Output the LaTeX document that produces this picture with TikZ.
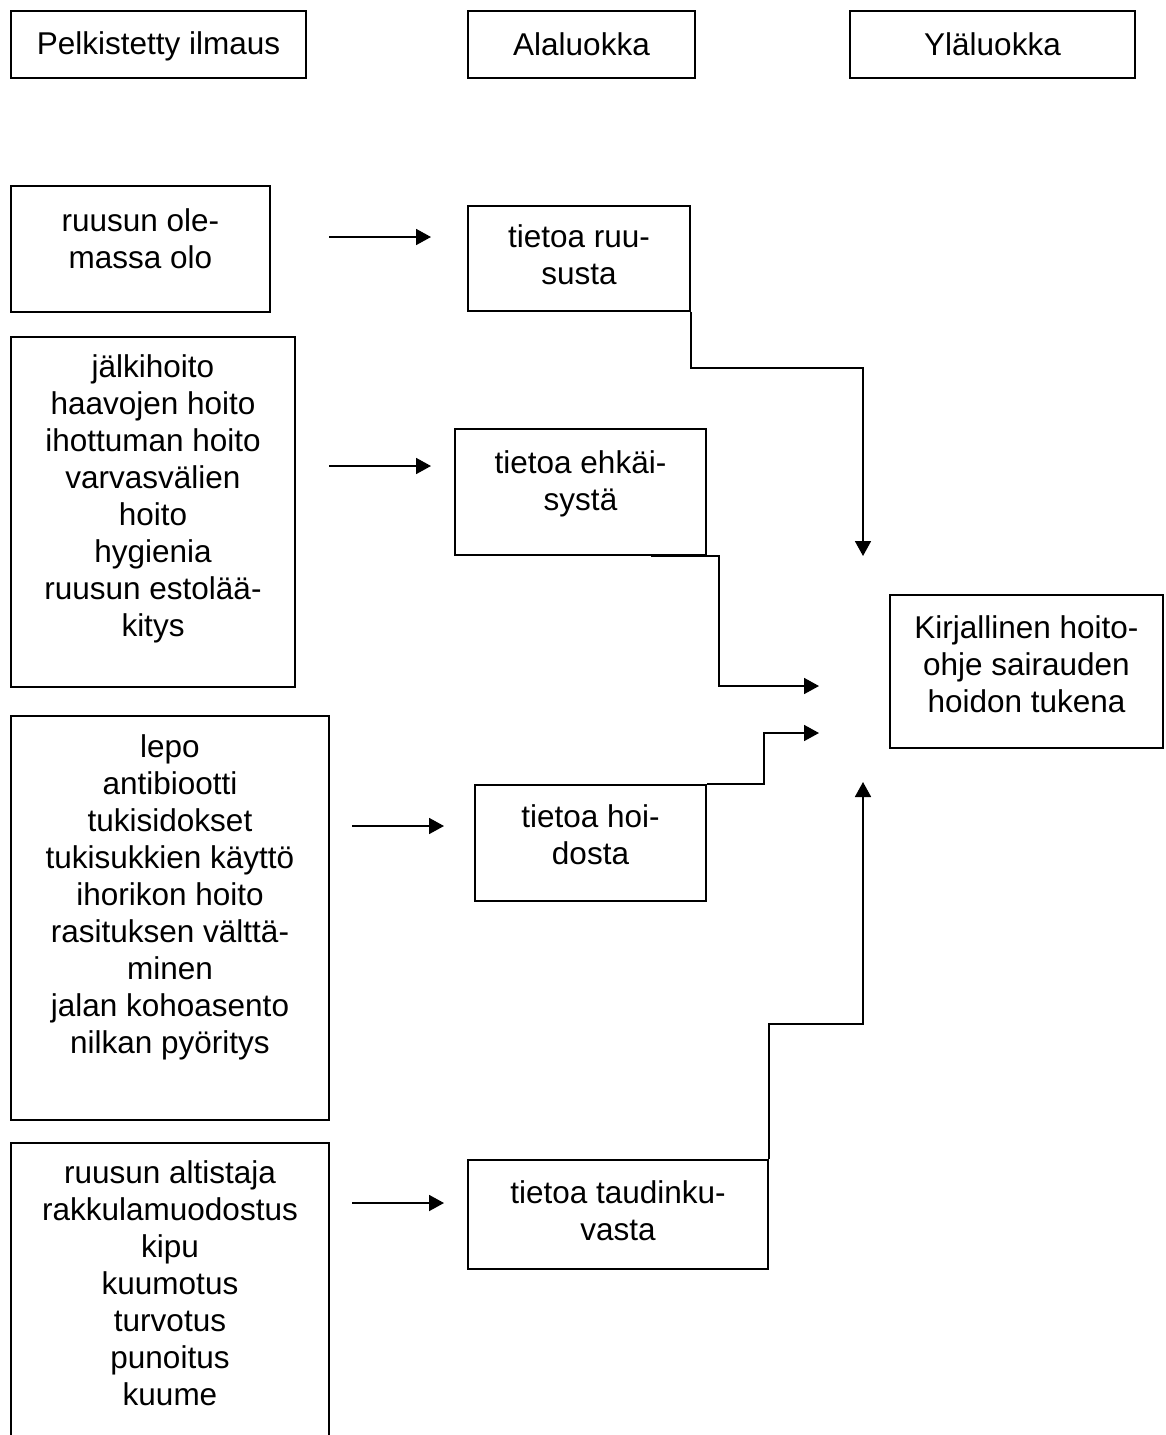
\documentclass[tikz,border=0pt]{standalone}
\usepackage{fontspec}
\setmainfont{Liberation Sans}
\usetikzlibrary{arrows.meta,calc}

\newcommand{\lowgap}[1]{\rule[-#1pt]{0pt}{#1pt}}

\tikzset{
  box/.style={draw, line width=1.8pt, align=center, inner sep=0pt, font=\fontsize{31.5}{37}\selectfont},
  arr/.style={line width=1.8pt, -{Triangle[length=15pt,width=16pt]}}
}

\begin{document}
\begin{tikzpicture}
  \useasboundingbox (0,0) rectangle (1165pt,-1435pt);
  \clip (0,0) rectangle (1165pt,-1435pt);
  % headings
  \node[box, minimum width=295pt, minimum height=67pt] (pelk) at (158.5pt,-44.5pt) {\rule{0pt}{27pt}Pelkistetty ilmaus};
  \node[box, minimum width=227pt, minimum height=67pt] (ala) at (581.5pt,-44.5pt) {Alaluokka};
  \node[box, minimum width=285pt, minimum height=67pt] (yla) at (992.5pt,-44.5pt) {Yläluokka};
  % reduced expressions
  \node[box, minimum width=259pt, minimum height=126pt] (ilm1) at (140.5pt,-249pt) {ruusun ole-\\massa olo\lowgap{20}};
  \node[box, minimum width=284pt, minimum height=350pt] (ilm2) at (153pt,-512pt) {jälkihoito\\haavojen hoito\\ihottuman hoito\\varvasvälien\\hoito\\hygienia\\ruusun estolää-\\kitys\lowgap{32}};
  \node[box, minimum width=318pt, minimum height=404pt] (ilm3) at (170pt,-918pt) {lepo\\antibiootti\\tukisidokset\\tukisukkien käyttö\\ihorikon hoito\\rasituksen välttä-\\minen\\jalan kohoasento\\nilkan pyöritys\lowgap{48}};
  \node[box, minimum width=318pt, minimum height=317pt] (ilm4) at (170pt,-1301.5pt) {ruusun altistaja\\rakkulamuodostus\\kipu\\kuumotus\\turvotus\\punoitus\\kuume\lowgap{37}};
  % subclasses
  \node[box, minimum width=222pt, minimum height=105pt] (ala1) at (579pt,-258.5pt) {tietoa ruu-\\susta\lowgap{8}};
  \node[box, minimum width=251pt, minimum height=126pt] (ala2) at (580.5pt,-492pt) {tietoa ehkäi-\\systä\lowgap{23}};
  \node[box, minimum width=231pt, minimum height=116pt] (ala3) at (590.5pt,-843pt) {tietoa hoi-\\dosta\lowgap{17}};
  \node[box, minimum width=300pt, minimum height=109pt] (ala4) at (618pt,-1214.5pt) {tietoa taudinku-\\vasta\lowgap{8}};
  % upper class
  \node[box, minimum width=273pt, minimum height=153pt] (yla1) at (1026.5pt,-671.5pt) {Kirjallinen hoito-\\ohje sairauden\\hoidon tukena\lowgap{14}};

  \coordinate (s1) at (329pt,-237pt);  \coordinate (e1) at (431pt,-237pt);
  \coordinate (s2) at (329pt,-466pt);  \coordinate (e2) at (431pt,-466pt);
  \coordinate (s3) at (352pt,-826pt);  \coordinate (e3) at (444pt,-826pt);
  \coordinate (s4) at (352pt,-1203pt); \coordinate (e4) at (444pt,-1203pt);
  \draw[arr] (s1) -- (e1);
  \draw[arr] (s2) -- (e2);
  \draw[arr] (s3) -- (e3);
  \draw[arr] (s4) -- (e4);

  \coordinate (t1) at (863pt,-556pt);
  \coordinate (t2) at (819pt,-686pt);
  \coordinate (t3) at (819pt,-733pt);
  \coordinate (t4) at (863pt,-782pt);
  \draw[arr] (ala1.south east) -- ++(0,-56pt) -| (t1);
  \draw[arr] ([xshift=-56pt]ala2.south east) -- ++(68pt,0) |- (t2);
  \draw[arr] (ala3.north east) -- ++(57pt,0) |- (t3);
  \draw[arr] (ala4.north east) -- ++(0,135pt) -| (t4);
\end{tikzpicture}
\end{document}
